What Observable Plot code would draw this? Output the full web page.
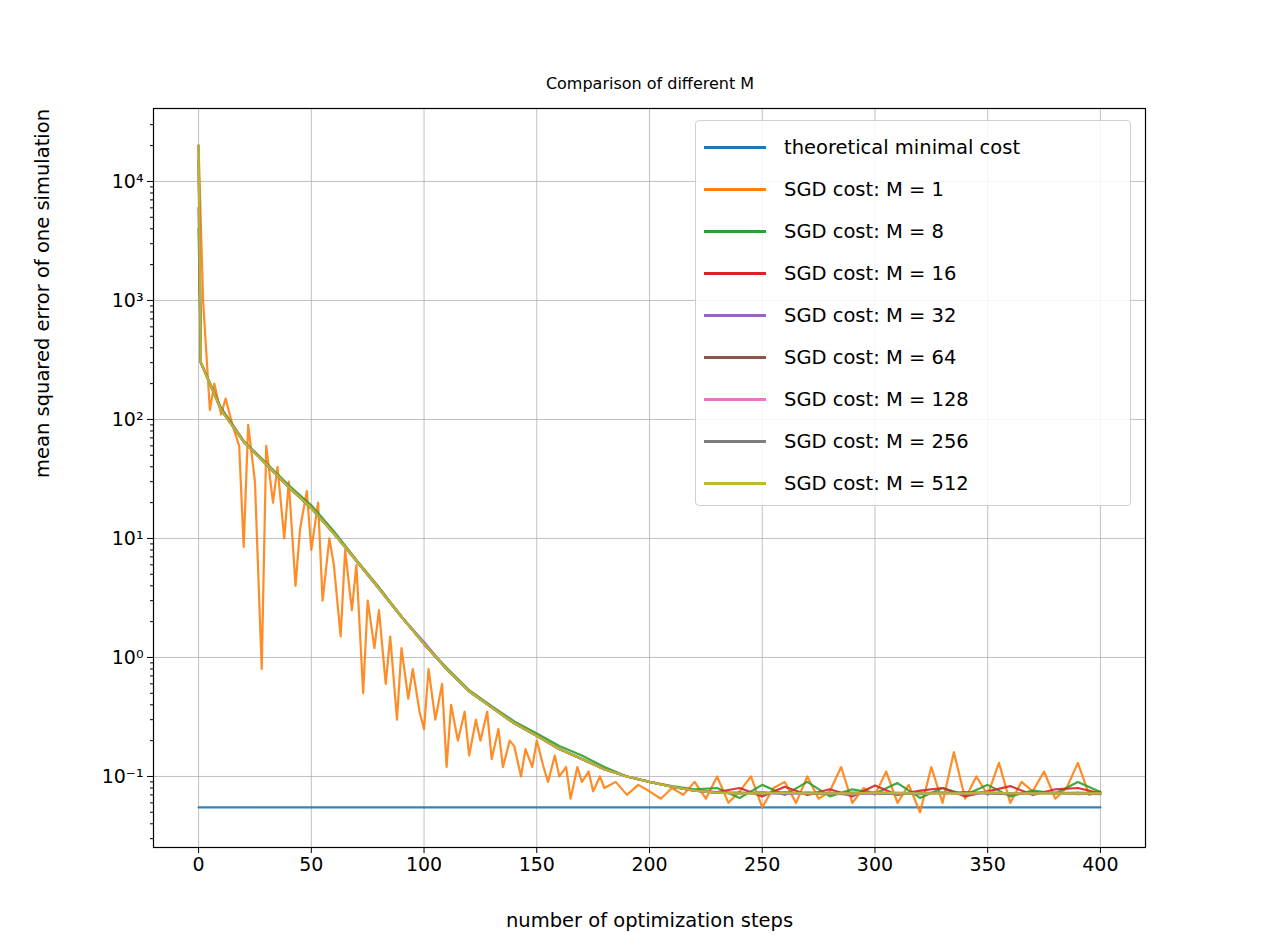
<!DOCTYPE html>
<html>
<head>
<meta charset="utf-8">
<script src="https://cdn.jsdelivr.net/npm/d3@7"></script>
<script src="https://cdn.jsdelivr.net/npm/@observablehq/plot@0.6"></script>
<style>
  body { margin: 0; background: #fff; font-family: "DejaVu Sans", sans-serif; }
  #wrap { position: relative; width: 1268px; height: 952px; }
  #title { position: absolute; top: 74px; left: 0; width: 1300px; text-align: center; font-size: 16px; }
  #legend { position: absolute; left: 695px; top: 120px; width: 436px; height: 386px; box-sizing: border-box;
            border: 1px solid #d0d0d0; border-radius: 4px; background: rgba(255,255,255,0.85); padding: 5px 0 0 8px; }
  .row { height: 42px; display: flex; align-items: center; font-size: 19.5px; }
  .sw { width: 62px; height: 0; border-top: 3px solid; margin-right: 18px; }
</style>
</head>
<body>
<div id="wrap">
  <div id="chart"></div>
  <div id="title">Comparison of different M</div>
  <div id="legend"></div>
</div>
<script>
const labels = ["theoretical minimal cost", "SGD cost: M = 1", "SGD cost: M = 8", "SGD cost: M = 16",
  "SGD cost: M = 32", "SGD cost: M = 64", "SGD cost: M = 128", "SGD cost: M = 256", "SGD cost: M = 512"];
const colors = ["#1f77b4", "#ff7f0e", "#2ca02c", "#d62728", "#9467bd", "#8c564b", "#e377c2", "#7f7f7f", "#bcbd22"];

const theoreticalSteps = [0, 400];
const theoreticalCost = [0.055, 0.055];

const stepsM1 = [0,2,5,7,10,12,15,18,20,22,25,28,30,33,35,38,40,43,45,48,50,53,55,58,60,63,65,68,70,73,75,78,80,83,85,88,90,93,95,98,100,102,105,108,110,112,115,118,120,123,125,128,130,133,135,138,140,143,145,148,150,153,155,158,160,163,165,168,170,173,175,178,180,185,190,195,200,205,210,215,220,225,230,235,240,245,250,255,260,265,270,275,280,285,290,295,300,305,310,315,320,325,330,335,340,345,350,355,360,365,370,375,380,385,390,395,400];
const costM1 = [20000,1000,120,200,110,150,90,60,8.5,90,30,0.8,60,20,40,10,30,4,12,25,8,20,3,10,6,1.5,8,2.5,6,0.5,3,1.2,2.5,0.6,1.5,0.3,1.2,0.45,0.8,0.35,0.25,0.8,0.3,0.6,0.12,0.4,0.2,0.35,0.15,0.3,0.2,0.35,0.14,0.25,0.12,0.2,0.18,0.1,0.17,0.12,0.2,0.12,0.09,0.15,0.1,0.12,0.065,0.12,0.09,0.11,0.075,0.1,0.08,0.09,0.07,0.085,0.075,0.065,0.08,0.07,0.09,0.065,0.1,0.06,0.075,0.1,0.055,0.08,0.09,0.06,0.1,0.065,0.075,0.12,0.06,0.08,0.07,0.11,0.06,0.085,0.05,0.12,0.06,0.16,0.065,0.1,0.07,0.13,0.06,0.09,0.075,0.11,0.065,0.08,0.13,0.07,0.075];

const steps = [0,1,10,20,30,40,50,60,70,80,90,100,110,120,130,140,150,160,170,180,190,200,210,220,230,240,250,260,270,280,290,300,310,320,330,340,350,360,370,380,390,400];
const costM8   = [4000,300,125,66,43,28,19,11.5,6.6,3.9,2.2,1.3,0.82,0.53,0.39,0.29,0.23,0.18,0.15,0.12,0.1,0.09,0.083,0.078,0.08,0.066,0.085,0.07,0.09,0.068,0.078,0.072,0.088,0.066,0.08,0.07,0.085,0.068,0.076,0.072,0.09,0.074];
const costM16  = [6000,300,122,65,42,27,18,11,6.5,3.8,2.2,1.3,0.8,0.52,0.38,0.28,0.22,0.17,0.14,0.115,0.1,0.09,0.082,0.076,0.074,0.08,0.068,0.082,0.07,0.078,0.068,0.084,0.07,0.076,0.08,0.068,0.075,0.083,0.07,0.078,0.08,0.072];
const costM32  = [20000,300,121,65,42,27,18,11,6.5,3.8,2.2,1.35,0.8,0.52,0.38,0.28,0.22,0.17,0.14,0.115,0.1,0.09,0.082,0.076,0.073,0.072,0.074,0.071,0.073,0.072,0.07,0.074,0.072,0.071,0.073,0.072,0.074,0.071,0.072,0.073,0.071,0.072];
const costM64  = [15000,300,120,65,42,27,18,11,6.5,3.8,2.2,1.3,0.8,0.52,0.38,0.28,0.22,0.17,0.14,0.115,0.1,0.09,0.082,0.076,0.073,0.073,0.072,0.074,0.071,0.072,0.073,0.072,0.071,0.073,0.072,0.074,0.072,0.071,0.073,0.072,0.072,0.071];
const costM128 = [12000,300,120,65,42,27,18,11,6.5,3.8,2.2,1.3,0.8,0.52,0.38,0.28,0.22,0.17,0.14,0.115,0.1,0.09,0.082,0.076,0.073,0.072,0.073,0.072,0.072,0.073,0.071,0.072,0.073,0.072,0.072,0.071,0.073,0.072,0.072,0.073,0.072,0.072];
const costM256 = [20000,300,120,65,42,27,18,11,6.5,3.8,2.2,1.3,0.8,0.52,0.38,0.28,0.22,0.17,0.14,0.115,0.1,0.09,0.082,0.076,0.073,0.072,0.072,0.072,0.073,0.072,0.072,0.072,0.071,0.072,0.073,0.072,0.072,0.072,0.072,0.072,0.073,0.072];
const costM512 = [20000,300,120,65,42,27,18,11,6.5,3.8,2.2,1.3,0.8,0.52,0.38,0.28,0.22,0.17,0.14,0.115,0.1,0.09,0.082,0.076,0.073,0.072,0.072,0.073,0.072,0.072,0.072,0.073,0.072,0.072,0.072,0.072,0.073,0.072,0.072,0.072,0.072,0.072];

const xTicks = [0, 50, 100, 150, 200, 250, 300, 350, 400];
const yTicks = [0.1, 1, 10, 100, 1000, 10000];
const supers = {"-": "⁻", "0": "⁰", "1": "¹", "2": "²", "3": "³", "4": "⁴"};
const fmtPow = (v) => "10" + String(Math.round(Math.log10(v))).split("").map(c => supers[c]).join("");
const minorTicks = [];
for (let e = -2; e <= 4; e++) for (let m = 2; m <= 9; m++) {
  const v = m * Math.pow(10, e);
  if (v > 0.026 && v < 40000) minorTicks.push(v);
}

const series = [[theoreticalSteps, theoreticalCost], [stepsM1, costM1], [steps, costM8], [steps, costM16],
  [steps, costM32], [steps, costM64], [steps, costM128], [steps, costM256], [steps, costM512]];
const rows = [];
series.forEach(([xs, ys], i) => xs.forEach((x, j) => rows.push({ step: x, cost: ys[j], name: labels[i] })));

const chart = Plot.plot({
  width: 1268, height: 952,
  marginLeft: 153, marginRight: 123, marginTop: 108, marginBottom: 105,
  style: { fontFamily: "DejaVu Sans, sans-serif", fontSize: "17px", color: "#000" },
  x: { domain: [-20, 420], ticks: xTicks, label: null },
  y: { type: "log", domain: [10 ** -1.597, 10 ** 4.613], label: null },
  marks: [
    Plot.gridX(xTicks, { stroke: "#b0b0b0", strokeOpacity: 0.8, strokeWidth: 1 }),
    Plot.gridY(yTicks, { stroke: "#b0b0b0", strokeOpacity: 0.8, strokeWidth: 1 }),
    ...labels.map((name, i) => Plot.line(rows.filter(r => r.name === name),
      { x: "step", y: "cost", stroke: colors[i], strokeWidth: 2.2, strokeOpacity: 0.9 })),
    Plot.frame({ stroke: "#000", strokeWidth: 1.2 }),
    Plot.axisX({ ticks: xTicks, tickSize: 6, tickPadding: 4, fontSize: 19 }),
    Plot.axisY({ ticks: yTicks, tickSize: 6, tickPadding: 4, tickFormat: fmtPow, fontSize: 19 }),
    Plot.axisY({ ticks: minorTicks, tickSize: 3, tickFormat: () => "" }),
    Plot.text(["number of optimization steps"], { frameAnchor: "bottom", dy: 79, fontSize: 19.5 }),
    Plot.text(["mean squared error of one simulation"], { frameAnchor: "left", dx: -111, rotate: -90, fontSize: 19.5 })
  ]
});
document.getElementById("chart").appendChild(chart);

const legend = document.getElementById("legend");
labels.forEach((name, i) => {
  const row = document.createElement("div");
  row.className = "row";
  row.innerHTML = `<div class="sw" style="border-color:${colors[i]}"></div><span>${name}</span>`;
  legend.appendChild(row);
});
</script>
</body>
</html>
